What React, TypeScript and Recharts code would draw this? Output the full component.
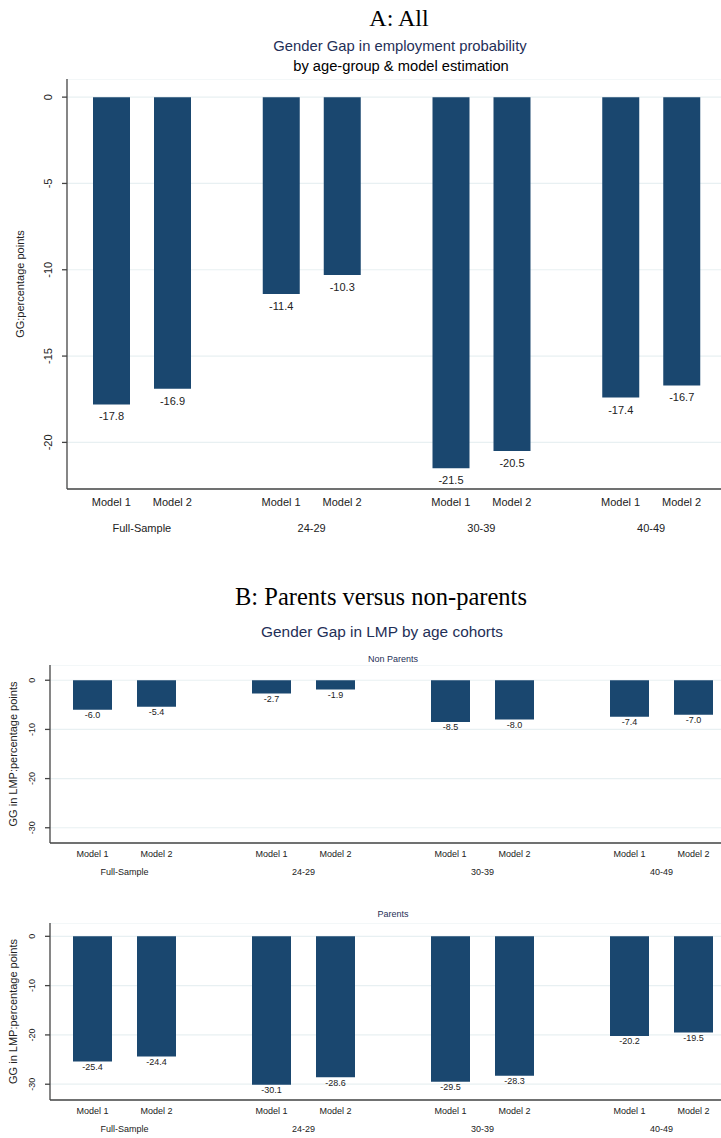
import { BarChart, Bar, XAxis, YAxis, CartesianGrid, LabelList, Label } from "recharts";

const groups = ["Full-Sample", "24-29", "30-39", "40-49"];
const modelNames = ["Model 1", "Model 2"];

// A: All
const allModel1 = [-17.8, -11.4, -21.5, -17.4];
const allModel2 = [-16.9, -10.3, -20.5, -16.7];
const ticksAll = [0, -5, -10, -15, -20];

// B: parents vs non-parents
const nonParentsModel1 = [-6.0, -2.7, -8.5, -7.4];
const nonParentsModel2 = [-5.4, -1.9, -8.0, -7.0];
const parentsModel1 = [-25.4, -30.1, -29.5, -20.2];
const parentsModel2 = [-24.4, -28.6, -28.3, -19.5];
const ticksLmp = [0, -10, -20, -30];

const barColor = "#1a476f";
const gridColor = "#e8f0f2";
const axisColor = "#444";
const navy = "#1f2f57";
const sans = "'Liberation Sans', Arial, sans-serif";
const serif = "'Liberation Serif', 'Times New Roman', serif";

const buildRows = (m1: number[], m2: number[]) =>
  groups.map((g, i) => ({ group: g, m1: m1[i], m2: m2[i] }));

type PanelProps = {
  rows: { group: string; m1: number; m2: number }[];
  height: number;
  top: number;
  yWidth: number;
  domain: [number, number];
  ticks: number[];
  barSize: number;
  barGap: number;
  pad: { left: number; right: number };
  fs: number;
  labelGap: number;
  xHeight: number;
  modelDy: number;
  groupDy: number;
  yTitle: string;
  yTitleX: number;
};

function GapPanel(p: PanelProps) {
  const off = (p.barSize + p.barGap) / 2;

  const xTick = (t: any) => (
    <g fontFamily={sans} fontSize={p.fs} fill="#222">
      <text x={t.x - off} y={t.y + p.modelDy} textAnchor="middle">{modelNames[0]}</text>
      <text x={t.x + off} y={t.y + p.modelDy} textAnchor="middle">{modelNames[1]}</text>
      <text x={t.x} y={t.y + p.groupDy} textAnchor="middle">{t.payload.value}</text>
    </g>
  );

  const yTick = (t: any) => (
    <g transform={`translate(${t.x},${t.y}) rotate(-90)`}>
      <text textAnchor="middle" fontFamily={sans} fontSize={p.fs} fill="#222">
        {t.payload.value}
      </text>
    </g>
  );

  const valueLabel = (l: any) => {
    const end = Math.max(l.y, l.y + l.height);
    return (
      <text
        x={l.x + l.width / 2}
        y={end + p.labelGap}
        dominantBaseline="hanging"
        textAnchor="middle"
        fontFamily={sans}
        fontSize={p.fs}
        fill="#222"
      >
        {Number(l.value).toFixed(1)}
      </text>
    );
  };

  const yTitle = (l: any) => {
    const vb = l.viewBox;
    const cy = vb.y + vb.height / 2;
    return (
      <text
        x={p.yTitleX}
        y={cy}
        transform={`rotate(-90, ${p.yTitleX}, ${cy})`}
        textAnchor="middle"
        dominantBaseline="central"
        fontFamily={sans}
        fontSize={11}
        fill="#222"
      >
        {p.yTitle}
      </text>
    );
  };

  return (
    <div style={{ position: "absolute", left: 0, top: p.top }}>
      <BarChart
        width={721}
        height={p.height}
        data={p.rows}
        margin={{ top: 0, right: 0, left: 0, bottom: 0 }}
        barSize={p.barSize}
        barGap={p.barGap}
      >
        <CartesianGrid horizontal vertical={false} stroke={gridColor} strokeWidth={1.2} />
        <XAxis
          dataKey="group"
          height={p.xHeight}
          padding={p.pad}
          tickSize={0}
          tickMargin={0}
          tickLine={false}
          interval={0}
          stroke={axisColor}
          strokeWidth={1.3}
          tick={xTick}
        />
        <YAxis
          type="number"
          domain={p.domain}
          ticks={p.ticks}
          allowDataOverflow
          width={p.yWidth}
          tickSize={5}
          tickMargin={10}
          stroke={axisColor}
          strokeWidth={1.3}
          tick={yTick}
        >
          <Label content={yTitle} />
        </YAxis>
        <Bar dataKey="m1" fill={barColor} isAnimationActive={false}>
          <LabelList dataKey="m1" content={valueLabel} />
        </Bar>
        <Bar dataKey="m2" fill={barColor} isAnimationActive={false}>
          <LabelList dataKey="m2" content={valueLabel} />
        </Bar>
      </BarChart>
    </div>
  );
}

function Title(props: { text: string; cx: number; cy: number; size: number; color: string; font: string }) {
  const h = props.size * 1.2;
  return (
    <div
      style={{
        position: "absolute",
        left: props.cx - 400,
        width: 800,
        top: props.cy - h / 2,
        lineHeight: `${h}px`,
        fontSize: props.size,
        fontFamily: props.font,
        color: props.color,
        textAlign: "center",
        whiteSpace: "nowrap",
      }}
    >
      {props.text}
    </div>
  );
}

export default function App() {
  return (
    <div
      style={{
        position: "absolute",
        left: 0,
        top: 0,
        width: 721,
        height: 1138,
        background: "#fff",
        overflow: "hidden",
      }}
    >
      <Title text="A: All" cx={399} cy={18} size={24} color="#000" font={serif} />
      <Title text="Gender Gap in employment probability" cx={400} cy={47} size={14.8} color={navy} font={sans} />
      <Title text="by age-group & model estimation" cx={401} cy={67} size={14.7} color="#000" font={sans} />

      <div style={{ position: "absolute", left: 0, top: 79 }}>
        <GapPanel
          rows={buildRows(allModel1, allModel2)}
          top={0}
          height={466}
          yWidth={67}
          domain={[-22.7, 1.05]}
          ticks={ticksAll}
          barSize={37}
          barGap={24}
          pad={{ left: -10, right: -15 }}
          fs={11}
          labelGap={8}
          xHeight={56}
          modelDy={17}
          groupDy={43}
          yTitle="GG:percentage points"
          yTitleX={20}
        />
      </div>

      <Title text="B: Parents versus non-parents" cx={381} cy={597} size={24.5} color="#000" font={serif} />
      <Title text="Gender Gap in LMP by age cohorts" cx={382} cy={632} size={15.4} color={navy} font={sans} />

      <Title text="Non Parents" cx={393} cy={659} size={9} color={navy} font={sans} />
      <div style={{ position: "absolute", left: 0, top: 665 }}>
        <GapPanel
          rows={buildRows(nonParentsModel1, nonParentsModel2)}
          top={0}
          height={215}
          yWidth={50}
          domain={[-33.1, 3.1]}
          ticks={ticksLmp}
          barSize={39}
          barGap={25}
          pad={{ left: -15, right: -30 }}
          fs={9}
          labelGap={2}
          xHeight={37}
          modelDy={14}
          groupDy={32}
          yTitle="GG in LMP:percentage points"
          yTitleX={13}
        />
      </div>

      <Title text="Parents" cx={393} cy={914} size={9} color={navy} font={sans} />
      <div style={{ position: "absolute", left: 0, top: 923 }}>
        <GapPanel
          rows={buildRows(parentsModel1, parentsModel2)}
          top={0}
          height={215}
          yWidth={50}
          domain={[-33.2, 2.7]}
          ticks={ticksLmp}
          barSize={39}
          barGap={25}
          pad={{ left: -15, right: -30 }}
          fs={9}
          labelGap={2}
          xHeight={38}
          modelDy={14}
          groupDy={32}
          yTitle="GG in LMP:percentage points"
          yTitleX={13}
        />
      </div>
    </div>
  );
}
